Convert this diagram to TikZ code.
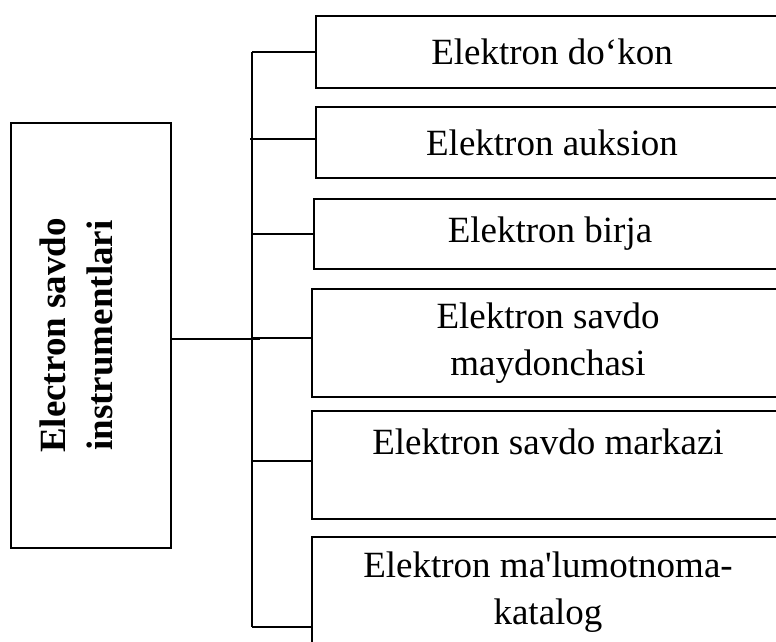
\documentclass[tikz,border=0pt]{standalone}
\usepackage{fontspec}
\setmainfont{Liberation Serif}
\begin{document}
\begin{tikzpicture}[x=0.5pt,y=-0.5pt,line width=1pt,
                        item/.style={draw,rectangle,anchor=west,minimum width=236pt,
                            align=center,inner sep=0pt,font=\fontsize{18.5}{23.5}\selectfont},
                        head/.style={draw,rectangle,rotate=90,minimum width=212.5pt,minimum height=80pt,
                            text depth=15pt,align=center,inner sep=0pt,font=\bfseries\fontsize{18.5}{23.5}\selectfont}]
                        \useasboundingbox (0,0) rectangle (776,642);
                        \clip (0,0) rectangle (776,642);
                        \coordinate (jone) at (252,52);
                        \coordinate (jtwo) at (250,139);
                        \coordinate (jthree) at (252,234);
                        \coordinate (jfour) at (252,338);
                        \coordinate (jfive) at (252,461);
                        \coordinate (jsix) at (252,627);
                        \coordinate (jmain) at (260,339);
                        \node [head] (main) at (91,335.5) {Electron savdo\\instrumentlari};
                        \node [item,minimum height=36pt] (dokon) at (315,52) {Elektron do‘kon};
                        \node [item,minimum height=35.5pt] (auksion) at (315,142.5) {Elektron auksion};
                        \node [item,minimum height=35pt] (birja) at (313,234) {Elektron birja};
                        \node [item,minimum height=54pt] (maydon) at (311,343) {Elektron savdo\\maydonchasi};
                        \node [item,minimum height=54pt] (markaz) at (311,465) {Elektron savdo markazi\\\mbox{}};
                        \node [item,minimum height=55pt] (katalog) at (311,592) {Elektron ma\textquotesingle lumotnoma-\\katalog};
                        \draw [black] (jone)--(jsix);
                        \draw [black] (jmain -| main.south)--(jmain);
                        \draw [black] (jone)--(jone -| dokon.west);
                        \draw [black] (jtwo)--(jtwo -| auksion.west);
                        \draw [black] (jthree)--(jthree -| birja.west);
                        \draw [black] (jfour)--(jfour -| maydon.west);
                        \draw [black] (jfive)--(jfive -| markaz.west);
                        \draw [black] (jsix)--(jsix -| katalog.west);
                    \end{tikzpicture}
\end{document}
